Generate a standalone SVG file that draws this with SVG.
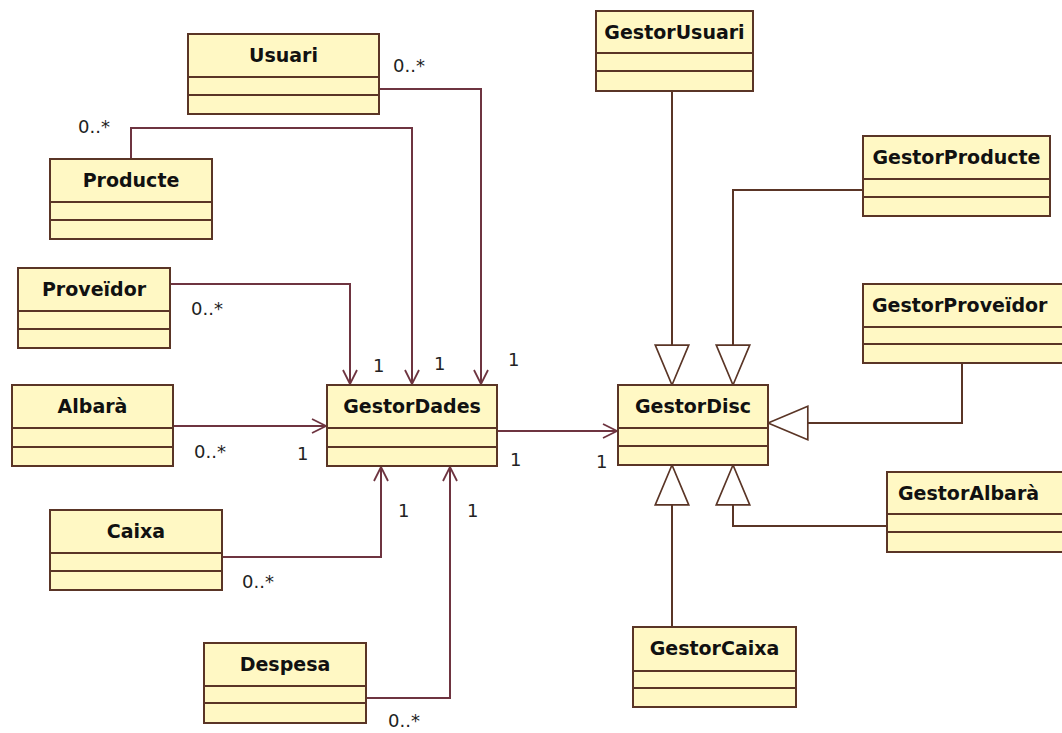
<svg xmlns="http://www.w3.org/2000/svg" width="1062" height="733" viewBox="0 0 1062 733">
<style>
.box{fill:#fff8c4;stroke:#5a3526;stroke-width:2}
.div{stroke:#5a3526;stroke-width:2}
.name{font-family:"DejaVu Sans",Verdana,sans-serif;font-weight:bold;font-size:19px;fill:#111;text-anchor:middle}
.nl{text-anchor:start}
.lbl{font-family:"DejaVu Sans",Verdana,sans-serif;font-size:18px;fill:#222}
.conn{fill:none;stroke:#6e3440;stroke-width:2}
.gen{fill:none;stroke:#5a3526;stroke-width:2}
</style>
<defs>
<marker id="open" markerUnits="userSpaceOnUse" markerWidth="20" markerHeight="20" viewBox="-16 -10 18 20" refX="0" refY="0" orient="auto">
<path d="M-14,-7 L0,0 L-14,7" fill="none" stroke="#6e3440" stroke-width="1.8"/>
</marker>
<marker id="tri" markerUnits="userSpaceOnUse" markerWidth="44" markerHeight="40" viewBox="-40 -18 42 36" refX="0" refY="0" orient="auto">
<path d="M0,0 L-38,-16 L-38,16 Z" fill="#fff" stroke="#5a3526" stroke-width="1.6"/>
</marker>
</defs>
<rect width="1062" height="733" fill="#fff"/>

<g id="connectors">
<path class="conn" d="M379,89 H481 V384" marker-end="url(#open)"/>
<path class="conn" d="M131,159 V128 H412 V384" marker-end="url(#open)"/>
<path class="conn" d="M170,284 H350 V384" marker-end="url(#open)"/>
<path class="conn" d="M173,426 H326" marker-end="url(#open)"/>
<path class="conn" d="M222,557 H381 V467" marker-end="url(#open)"/>
<path class="conn" d="M366,698 H450 V467" marker-end="url(#open)"/>
<path class="conn" d="M497,431 H617" marker-end="url(#open)"/>
<path class="gen" d="M672,91 V385" marker-end="url(#tri)"/>
<path class="gen" d="M863,190 H733 V385" marker-end="url(#tri)"/>
<path class="gen" d="M962,363 V423 H768" marker-end="url(#tri)"/>
<path class="gen" d="M887,526 H733 V465" marker-end="url(#tri)"/>
<path class="gen" d="M672,627 V465" marker-end="url(#tri)"/>
<text class="lbl" x="393" y="72">0..*</text>
<text class="lbl" x="78" y="133">0..*</text>
<text class="lbl" x="191" y="315">0..*</text>
<text class="lbl" x="373" y="372">1</text>
<text class="lbl" x="434" y="370">1</text>
<text class="lbl" x="508" y="366">1</text>
<text class="lbl" x="194" y="458">0..*</text>
<text class="lbl" x="297" y="460">1</text>
<text class="lbl" x="510" y="466">1</text>
<text class="lbl" x="596" y="468">1</text>
<text class="lbl" x="398" y="517">1</text>
<text class="lbl" x="467" y="517">1</text>
<text class="lbl" x="242" y="588">0..*</text>
<text class="lbl" x="388" y="727">0..*</text>
</g>

<g id="Usuari">
<rect class="box" x="188" y="34" width="191" height="80"/>
<path class="div" d="M188,77 H379 M188,95 H379"/>
<text class="name" x="283.5" y="62">Usuari</text>
</g>
<g id="Producte">
<rect class="box" x="50" y="159" width="162" height="80"/>
<path class="div" d="M50,202 H212 M50,220 H212"/>
<text class="name" x="131" y="187">Producte</text>
</g>
<g id="Proveidor">
<rect class="box" x="18" y="268" width="152" height="80"/>
<path class="div" d="M18,311 H170 M18,329 H170"/>
<text class="name" x="94" y="296">Proveïdor</text>
</g>
<g id="Albara">
<rect class="box" x="12" y="385" width="161" height="81"/>
<path class="div" d="M12,428 H173 M12,447 H173"/>
<text class="name" x="92.5" y="413">Albarà</text>
</g>
<g id="GestorDades">
<rect class="box" x="327" y="385" width="170" height="81"/>
<path class="div" d="M327,428 H497 M327,447 H497"/>
<text class="name" x="412" y="413">GestorDades</text>
</g>
<g id="Caixa">
<rect class="box" x="50" y="510" width="172" height="80"/>
<path class="div" d="M50,553 H222 M50,571 H222"/>
<text class="name" x="136" y="538">Caixa</text>
</g>
<g id="Despesa">
<rect class="box" x="204" y="643" width="162" height="80"/>
<path class="div" d="M204,686 H366 M204,703 H366"/>
<text class="name" x="285" y="671">Despesa</text>
</g>
<g id="GestorUsuari">
<rect class="box" x="596" y="11" width="157" height="80"/>
<path class="div" d="M596,53 H753 M596,71 H753"/>
<text class="name" x="674.5" y="39">GestorUsuari</text>
</g>
<g id="GestorProducte">
<rect class="box" x="863" y="136" width="187" height="80"/>
<path class="div" d="M863,179 H1050 M863,197 H1050"/>
<text class="name" x="956.5" y="164">GestorProducte</text>
</g>
<g id="GestorProveidor">
<rect class="box" x="863" y="284" width="210" height="79"/>
<path class="div" d="M863,327 H1073 M863,344 H1073"/>
<text class="name nl" x="872" y="312">GestorProveïdor</text>
</g>
<g id="GestorDisc">
<rect class="box" x="618" y="385" width="150" height="80"/>
<path class="div" d="M618,428 H768 M618,446 H768"/>
<text class="name" x="693" y="413">GestorDisc</text>
</g>
<g id="GestorAlbara">
<rect class="box" x="887" y="472" width="190" height="80"/>
<path class="div" d="M887,514 H1077 M887,532 H1077"/>
<text class="name nl" x="898" y="500">GestorAlbarà</text>
</g>
<g id="GestorCaixa">
<rect class="box" x="633" y="627" width="163" height="80"/>
<path class="div" d="M633,671 H796 M633,688 H796"/>
<text class="name" x="714.5" y="655">GestorCaixa</text>
</g>
</svg>
